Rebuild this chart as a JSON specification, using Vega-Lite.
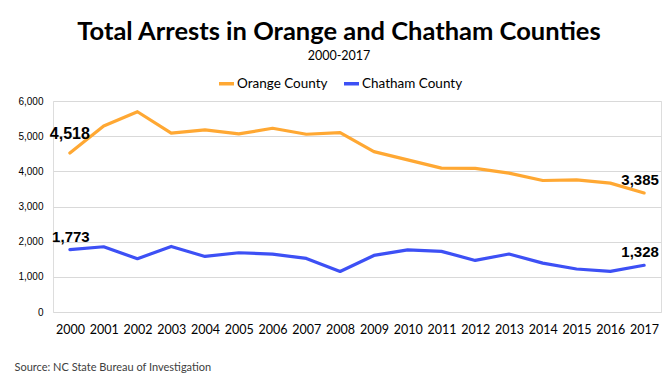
{
  "$schema": "https://vega.github.io/schema/vega-lite/v6.json",
  "width": 608,
  "height": 211,
  "autosize": {"type": "none"},
  "padding": {"left": 53, "top": 101, "right": 9, "bottom": 68},
  "background": "white",
  "title": {
    "text": "Total Arrests in Orange and Chatham Counties",
    "subtitle": "2000-2017",
    "anchor": "middle",
    "frame": "group",
    "dx": -18,
    "font": "Lato",
    "fontSize": 25.5,
    "fontWeight": "bold",
    "color": "#000000",
    "subtitleFont": "Lato",
    "subtitleFontSize": 12.5,
    "subtitleColor": "#000000",
    "subtitlePadding": 4,
    "offset": 12
  },
  "data": {
    "values": [
      {"year": "2000", "county": "Orange County", "arrests": 4518},
      {"year": "2001", "county": "Orange County", "arrests": 5290},
      {"year": "2002", "county": "Orange County", "arrests": 5695},
      {"year": "2003", "county": "Orange County", "arrests": 5085},
      {"year": "2004", "county": "Orange County", "arrests": 5180},
      {"year": "2005", "county": "Orange County", "arrests": 5065},
      {"year": "2006", "county": "Orange County", "arrests": 5225},
      {"year": "2007", "county": "Orange County", "arrests": 5055},
      {"year": "2008", "county": "Orange County", "arrests": 5100},
      {"year": "2009", "county": "Orange County", "arrests": 4560},
      {"year": "2010", "county": "Orange County", "arrests": 4325},
      {"year": "2011", "county": "Orange County", "arrests": 4090},
      {"year": "2012", "county": "Orange County", "arrests": 4085},
      {"year": "2013", "county": "Orange County", "arrests": 3950},
      {"year": "2014", "county": "Orange County", "arrests": 3740},
      {"year": "2015", "county": "Orange County", "arrests": 3755},
      {"year": "2016", "county": "Orange County", "arrests": 3665},
      {"year": "2017", "county": "Orange County", "arrests": 3385},
      {"year": "2000", "county": "Chatham County", "arrests": 1773},
      {"year": "2001", "county": "Chatham County", "arrests": 1855},
      {"year": "2002", "county": "Chatham County", "arrests": 1514},
      {"year": "2003", "county": "Chatham County", "arrests": 1865},
      {"year": "2004", "county": "Chatham County", "arrests": 1580},
      {"year": "2005", "county": "Chatham County", "arrests": 1685},
      {"year": "2006", "county": "Chatham County", "arrests": 1648},
      {"year": "2007", "county": "Chatham County", "arrests": 1523},
      {"year": "2008", "county": "Chatham County", "arrests": 1153},
      {"year": "2009", "county": "Chatham County", "arrests": 1608},
      {"year": "2010", "county": "Chatham County", "arrests": 1765},
      {"year": "2011", "county": "Chatham County", "arrests": 1725},
      {"year": "2012", "county": "Chatham County", "arrests": 1466},
      {"year": "2013", "county": "Chatham County", "arrests": 1648},
      {"year": "2014", "county": "Chatham County", "arrests": 1390},
      {"year": "2015", "county": "Chatham County", "arrests": 1222},
      {"year": "2016", "county": "Chatham County", "arrests": 1155},
      {"year": "2017", "county": "Chatham County", "arrests": 1328}
    ]
  },
  "encoding": {
    "x": {
      "field": "year",
      "type": "ordinal",
      "scale": {"type": "point", "padding": 0.5},
      "axis": {
        "title": "Source: NC State Bureau of Investigation",
        "titleFont": "Lato",
        "titleFontSize": 11,
        "titleFontWeight": "normal",
        "titleColor": "#404040",
        "titleAnchor": "start",
        "titleAlign": "left",
        "titleBaseline": "middle",
        "titleX": -39,
        "titleY": 55,
        "labelAngle": 0,
        "labelFont": "Lato",
        "labelFontSize": 12.5,
        "labelColor": "#000000",
        "labelPadding": 11,
        "ticks": false,
        "domain": false,
        "grid": false
      }
    },
    "y": {
      "field": "arrests",
      "type": "quantitative",
      "scale": {"domain": [0, 6000]},
      "axis": {
        "title": null,
        "values": [0, 1000, 2000, 3000, 4000, 5000, 6000],
        "format": ",.0f",
        "labelFont": "Liberation Sans",
        "labelFontSize": 10,
        "labelColor": "#000000",
        "labelPadding": 10,
        "ticks": false,
        "domain": false,
        "grid": true,
        "gridColor": "#D9D9D9",
        "gridWidth": 1
      }
    }
  },
  "layer": [
    {
      "mark": {"type": "line", "strokeWidth": 3.2, "strokeCap": "round", "strokeJoin": "round"},
      "encoding": {
        "color": {
          "field": "county",
          "type": "nominal",
          "scale": {"domain": ["Orange County", "Chatham County"], "range": ["#FFA833", "#3D50F5"]},
          "legend": {
            "title": null,
            "orient": "none",
            "direction": "horizontal",
            "legendX": 164,
            "legendY": -27,
            "symbolType": "stroke",
            "symbolSize": 225,
            "symbolStrokeWidth": 3.5,
            "labelFont": "Lato",
            "labelFontSize": 13.5,
            "labelColor": "#000000",
            "labelOffset": 1,
            "columnPadding": 9
          }
        }
      }
    },
    {
      "transform": [{"filter": "datum.year == '2000' && datum.county == 'Orange County'"}],
      "mark": {"type": "text", "font": "Liberation Sans", "fontWeight": "bold", "fontSize": 16, "dy": -19, "color": "#000000"},
      "encoding": {"text": {"field": "arrests", "type": "quantitative", "format": ","}}
    },
    {
      "transform": [{"filter": "datum.year == '2000' && datum.county == 'Chatham County'"}],
      "mark": {"type": "text", "font": "Liberation Sans", "fontWeight": "bold", "fontSize": 15, "dy": -13, "dx": 1, "color": "#000000"},
      "encoding": {"text": {"field": "arrests", "type": "quantitative", "format": ","}}
    },
    {
      "transform": [{"filter": "datum.year == '2017'"}],
      "mark": {"type": "text", "font": "Liberation Sans", "fontWeight": "bold", "fontSize": 15, "dy": -13, "dx": -4, "color": "#000000"},
      "encoding": {"text": {"field": "arrests", "type": "quantitative", "format": ","}}
    }
  ]
}
